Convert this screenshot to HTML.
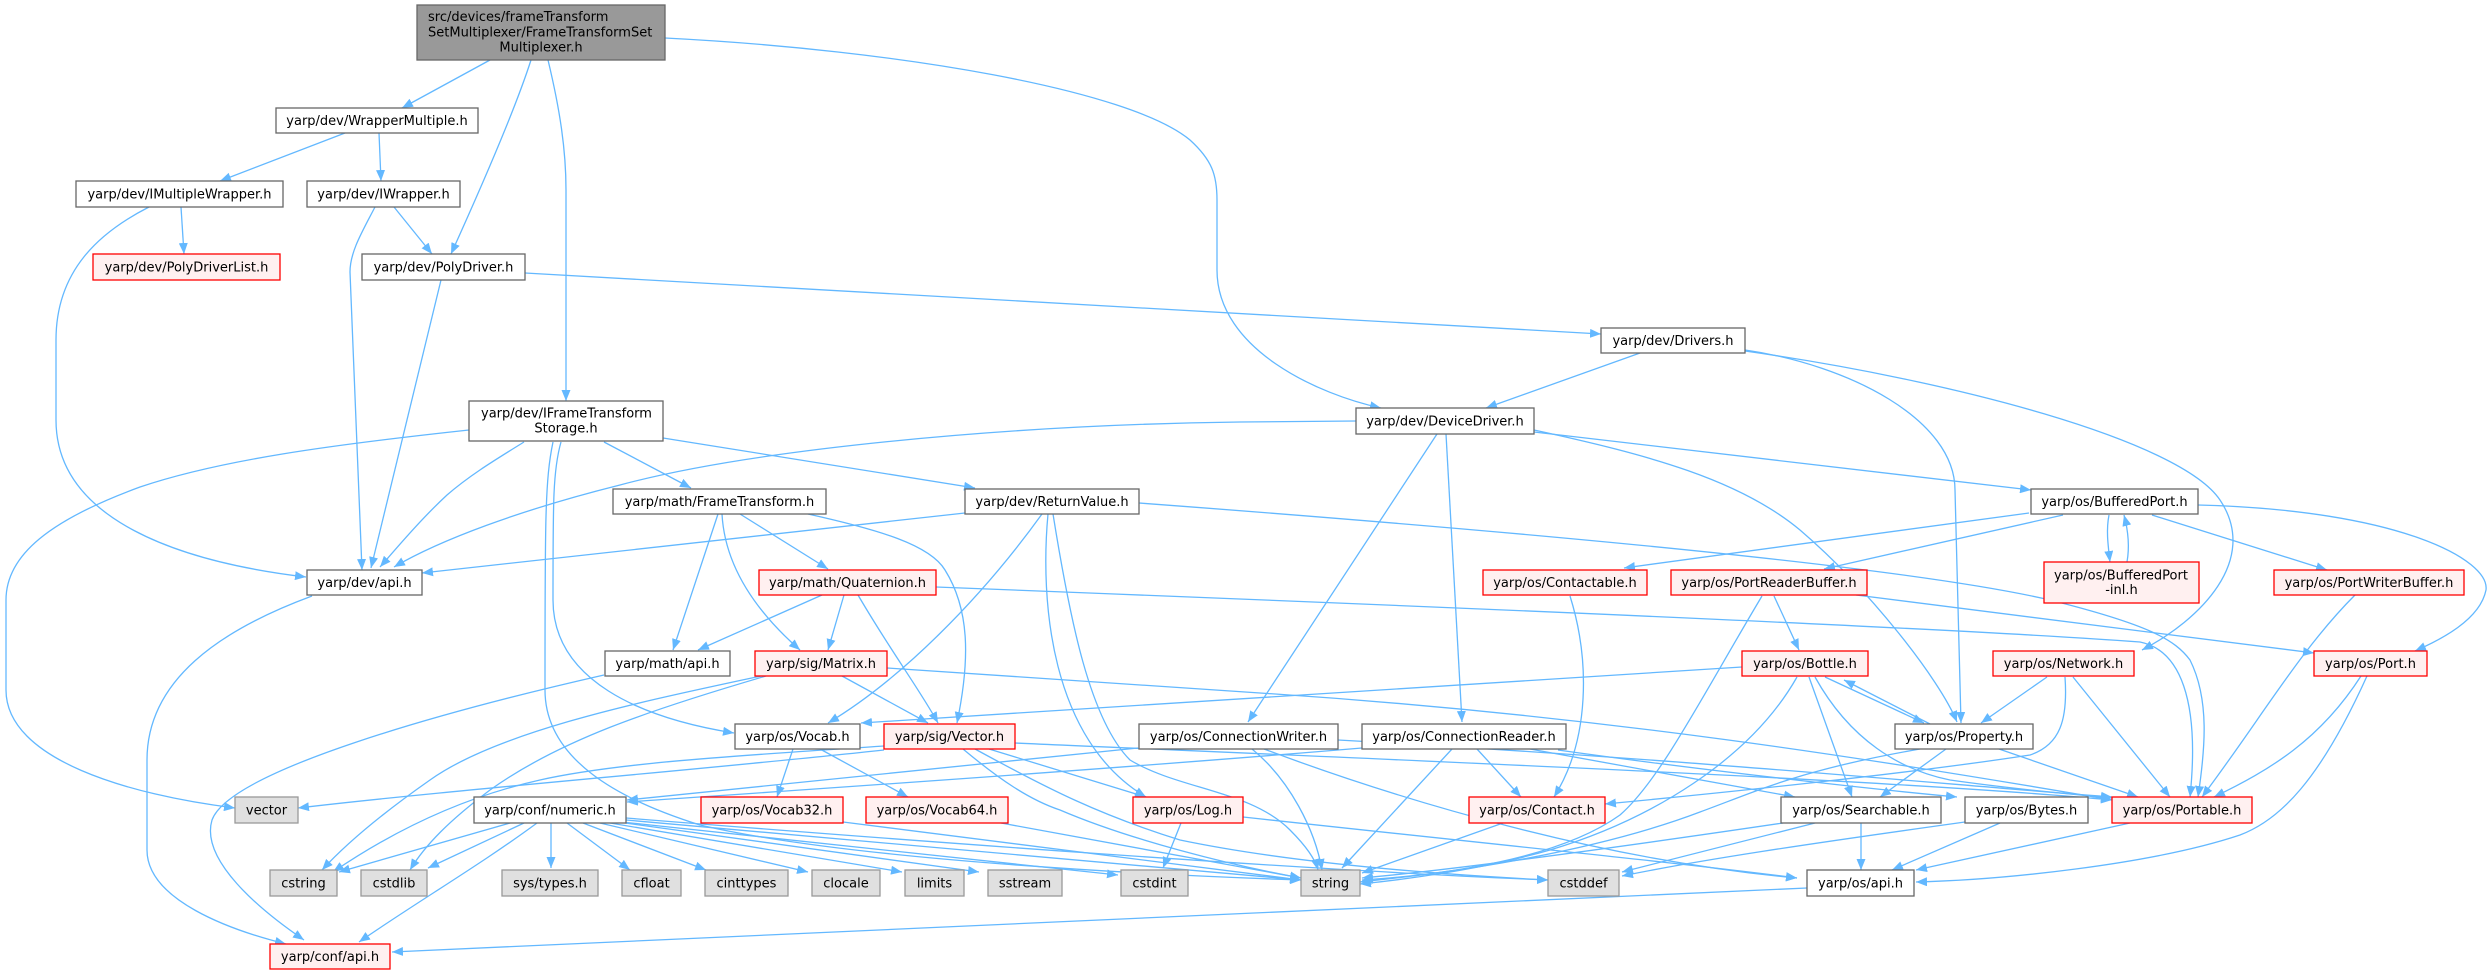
<!DOCTYPE html>
<html><head><meta charset="utf-8">
<style>
html,body{margin:0;padding:0;background:#fff;}
svg{display:block;}
text{font-family:"DejaVu Sans","Liberation Sans",sans-serif;font-size:13px;fill:#000;}
.e{fill:none;stroke:#63b8ff;stroke-width:1.3;marker-end:url(#a);}
.n{fill:#fff;stroke:#666;stroke-width:1.3;}
.r{fill:#fff0f0;stroke:#ff0000;stroke-width:1.3;}
.g{fill:#e0e0e0;stroke:#999;stroke-width:1.3;}
.m{fill:#999;stroke:#666;stroke-width:1.3;}
</style></head>
<body>
<svg width="2491" height="975" viewBox="0 0 2491 975" xmlns="http://www.w3.org/2000/svg">
<defs>
<marker id="a" viewBox="0 0 11 9" refX="11" refY="4.5" markerWidth="11" markerHeight="9" markerUnits="userSpaceOnUse" orient="auto">
<path d="M0,0 L11,4.5 L0,9 z" fill="#63b8ff"/>
</marker>
</defs>
<g>
<path class="e" d="M490,60 L402,108"/>
<path class="e" d="M531,60 C515,110 480,190 451,254"/>
<path class="e" d="M548,60 C560,110 566,150 566,190 L566,401"/>
<path class="e" d="M665,38 C900,50 1130,90 1190,140 C1212,160 1217,175 1217,200 L1217,270 C1217,350 1320,395 1381,408"/>
<path class="e" d="M345,133 L220,181"/>
<path class="e" d="M379,133 L381,181"/>
<path class="e" d="M181,207 L184,254"/>
<path class="e" d="M149,207 C100,232 56,270 56,340 L56,420 C56,520 180,562 306,577"/>
<path class="e" d="M394,207 L432,254"/>
<path class="e" d="M375,207 C362,232 350,252 350,272 L362,570"/>
<path class="e" d="M525,273 L1601,334"/>
<path class="e" d="M441,280 L371,568"/>
<path class="e" d="M469,430 C330,445 220,460 140,487 C50,520 6,555 6,600 L6,690 C6,760 130,795 235,808"/>
<path class="e" d="M524,442 C495,460 470,475 447,495 C420,520 395,550 380,567"/>
<path class="e" d="M604,442 L691,488"/>
<path class="e" d="M663,438 L975,488"/>
<path class="e" d="M561,442 C553,470 553,500 553,600 C553,680 640,718 734,733"/>
<path class="e" d="M553,442 C545,480 545,520 545,690 C545,760 620,800 700,825 C850,860 1150,875 1301,880"/>
<path class="e" d="M718,514 L673,650"/>
<path class="e" d="M722,514 C725,570 760,615 800,650"/>
<path class="e" d="M740,514 L828,569"/>
<path class="e" d="M808,514 C880,530 930,545 945,570 C970,610 970,660 957,723"/>
<path class="e" d="M822,595 L698,650"/>
<path class="e" d="M844,595 L828,650"/>
<path class="e" d="M858,595 C890,650 920,690 938,723"/>
<path class="e" d="M936,587 C1400,605 1950,628 2140,642 C2180,650 2200,700 2190,797"/>
<path class="e" d="M1139,503 C1500,530 1900,565 2050,600 C2150,625 2175,640 2190,660 C2210,700 2205,750 2198,797"/>
<path class="e" d="M965,513 L422,573"/>
<path class="e" d="M1042,514 C980,600 900,680 828,723"/>
<path class="e" d="M1048,514 C1040,600 1050,740 1146,797"/>
<path class="e" d="M1053,514 C1070,620 1090,720 1130,760 C1180,790 1250,790 1290,830 C1305,845 1315,858 1318,870"/>
<path class="e" d="M842,676 L928,723"/>
<path class="e" d="M761,676 C650,700 500,730 430,780 C380,815 345,845 322,870"/>
<path class="e" d="M766,676 C650,710 560,740 490,790 C450,820 425,845 410,870"/>
<path class="e" d="M884,750 C700,770 450,790 298,808"/>
<path class="e" d="M884,746 C750,755 620,762 540,780 C450,800 380,840 333,872"/>
<path class="e" d="M989,749 L1146,797"/>
<path class="e" d="M963,749 C1000,780 1030,800 1060,810 C1130,840 1230,865 1301,878"/>
<path class="e" d="M975,749 C1050,790 1100,815 1180,840 C1300,865 1450,875 1548,880"/>
<path class="e" d="M1015,743 C1400,760 1900,780 2112,800"/>
<path class="e" d="M793,749 L777,797"/>
<path class="e" d="M820,749 L908,797"/>
<path class="e" d="M1742,667 L861,723"/>
<path class="e" d="M887,668 L1260,693 C1600,715 1880,760 2112,800"/>
<path class="e" d="M1181,823 L1163,868"/>
<path class="e" d="M1243,817 C1500,845 1700,865 1797,878"/>
<path class="e" d="M843,822 L1301,880"/>
<path class="e" d="M1001,823 L1301,878"/>
<path class="e" d="M510,823 L339,872"/>
<path class="e" d="M524,823 L428,868"/>
<path class="e" d="M551,823 L551,868"/>
<path class="e" d="M567,823 L630,870"/>
<path class="e" d="M583,823 L706,870"/>
<path class="e" d="M600,823 L808,872"/>
<path class="e" d="M610,823 L902,872"/>
<path class="e" d="M618,822 L979,872"/>
<path class="e" d="M622,822 L1118,875"/>
<path class="e" d="M626,820 L1301,880"/>
<path class="e" d="M626,818 C900,840 1300,870 1548,880"/>
<path class="e" d="M537,823 C480,865 420,900 359,942"/>
<path class="e" d="M312,596 C220,630 147,680 147,760 L147,850 C147,900 230,930 286,944"/>
<path class="e" d="M604,675 C450,710 230,770 212,820 C200,860 260,910 304,940"/>
<path class="e" d="M1807,888 L392,952"/>
<path class="e" d="M1252,749 C1290,780 1315,830 1322,870"/>
<path class="e" d="M1264,749 C1400,800 1600,860 1797,878"/>
<path class="e" d="M1138,748 L627,800"/>
<path class="e" d="M1362,748 C1100,770 800,790 627,802"/>
<path class="e" d="M1452,749 L1342,868"/>
<path class="e" d="M1477,749 L1521,797"/>
<path class="e" d="M1530,749 L1795,797"/>
<path class="e" d="M1558,750 C1700,770 1880,790 1957,797"/>
<path class="e" d="M1338,740 C1700,760 1950,785 2112,797"/>
<path class="e" d="M1570,596 C1590,660 1590,740 1554,797"/>
<path class="e" d="M1774,596 L1799,650"/>
<path class="e" d="M1762,596 C1700,700 1660,780 1620,815 C1550,865 1420,875 1360,882"/>
<path class="e" d="M1856,595 L2314,653"/>
<path class="e" d="M1797,677 C1750,760 1650,820 1550,850 C1480,870 1400,880 1360,884"/>
<path class="e" d="M1809,677 L1852,797"/>
<path class="e" d="M1815,677 C1850,740 1900,770 1950,780 C2020,790 2080,795 2112,798"/>
<path class="e" d="M1825,677 L1924,723"/>
<path class="e" d="M1930,724 L1844,680"/>
<path class="e" d="M1503,823 L1362,873"/>
<path class="e" d="M1783,823 C1600,850 1450,870 1362,878"/>
<path class="e" d="M1815,823 L1622,872"/>
<path class="e" d="M1861,823 L1861,870"/>
<path class="e" d="M1965,822 C1800,845 1700,860 1622,876"/>
<path class="e" d="M2000,823 L1892,870"/>
<path class="e" d="M2130,823 L1916,870"/>
<path class="e" d="M2367,676 C2320,780 2280,820 2240,835 C2150,865 2000,880 1916,882"/>
<path class="e" d="M2361,676 C2320,740 2270,770 2214,797"/>
<path class="e" d="M2355,595 C2300,650 2260,720 2202,797"/>
<path class="e" d="M2047,677 L1981,723"/>
<path class="e" d="M2073,677 L2170,797"/>
<path class="e" d="M2065,677 C2068,720 2060,745 2030,755 C1900,775 1700,795 1605,804"/>
<path class="e" d="M1946,749 L1880,797"/>
<path class="e" d="M1999,749 L2138,797"/>
<path class="e" d="M1920,749 C1800,770 1760,790 1700,812 C1600,850 1450,875 1362,880"/>
<path class="e" d="M1356,421 L1240,422 C1000,425 750,450 620,485 C520,510 440,540 394,567"/>
<path class="e" d="M1437,434 L1248,722"/>
<path class="e" d="M1446,434 L1462,722"/>
<path class="e" d="M1534,430 C1650,455 1740,480 1800,530 C1870,590 1940,680 1957,722"/>
<path class="e" d="M1534,432 L2031,490"/>
<path class="e" d="M1640,353 L1486,408"/>
<path class="e" d="M1745,350 C1850,365 1955,420 1955,490 L1961,723"/>
<path class="e" d="M1745,351 C1950,380 2180,440 2220,500 C2260,560 2200,620 2142,650"/>
<path class="e" d="M2029,513 L1624,568"/>
<path class="e" d="M2063,515 L1824,569"/>
<path class="e" d="M2109,515 C2106,530 2108,545 2110,562"/>
<path class="e" d="M2127,562 C2130,545 2128,530 2124,515"/>
<path class="e" d="M2152,515 L2327,570"/>
<path class="e" d="M2198,505 C2400,510 2490,560 2486,590 C2480,620 2440,640 2415,651"/>
</g>
<g>
<rect class="m" x="417" y="5" width="248" height="55"/>
<text x="428" y="21">src/devices/frameTransform</text>
<text x="428" y="36.5">SetMultiplexer/FrameTransformSet</text>
<text x="541" y="51.5" text-anchor="middle">Multiplexer.h</text>

<rect class="n" x="276" y="108" width="202" height="25"/><text x="377" y="125" text-anchor="middle">yarp/dev/WrapperMultiple.h</text>
<rect class="n" x="76" y="181" width="207" height="26"/><text x="179.5" y="198.5" text-anchor="middle">yarp/dev/IMultipleWrapper.h</text>
<rect class="n" x="307" y="181" width="153" height="26"/><text x="383.5" y="198.5" text-anchor="middle">yarp/dev/IWrapper.h</text>
<rect class="r" x="93" y="254" width="187" height="26"/><text x="186.5" y="271.5" text-anchor="middle">yarp/dev/PolyDriverList.h</text>
<rect class="n" x="362" y="254" width="163" height="26"/><text x="443.5" y="271.5" text-anchor="middle">yarp/dev/PolyDriver.h</text>
<rect class="n" x="1601" y="328" width="144" height="25"/><text x="1673" y="345" text-anchor="middle">yarp/dev/Drivers.h</text>
<rect class="n" x="469" y="401" width="194" height="40"/>
<text x="481" y="417.5">yarp/dev/IFrameTransform</text>
<text x="566" y="432.5" text-anchor="middle">Storage.h</text>
<rect class="n" x="1356" y="408" width="178" height="26"/><text x="1445" y="425.5" text-anchor="middle">yarp/dev/DeviceDriver.h</text>
<rect class="n" x="613" y="489" width="213" height="25"/><text x="719.5" y="506" text-anchor="middle">yarp/math/FrameTransform.h</text>
<rect class="n" x="965" y="489" width="174" height="25"/><text x="1052" y="506" text-anchor="middle">yarp/dev/ReturnValue.h</text>
<rect class="n" x="2031" y="489" width="167" height="25"/><text x="2114.5" y="506" text-anchor="middle">yarp/os/BufferedPort.h</text>
<rect class="n" x="307" y="570" width="115" height="25"/><text x="364.5" y="587" text-anchor="middle">yarp/dev/api.h</text>
<rect class="r" x="759" y="570" width="177" height="25"/><text x="847.5" y="587" text-anchor="middle">yarp/math/Quaternion.h</text>
<rect class="r" x="1483" y="570" width="164" height="25"/><text x="1565" y="587" text-anchor="middle">yarp/os/Contactable.h</text>
<rect class="r" x="1671" y="570" width="196" height="25"/><text x="1769" y="587" text-anchor="middle">yarp/os/PortReaderBuffer.h</text>
<rect class="r" x="2044" y="562" width="155" height="41"/>
<text x="2054" y="579.5">yarp/os/BufferedPort</text>
<text x="2121.5" y="594" text-anchor="middle">-inl.h</text>
<rect class="r" x="2274" y="570" width="190" height="25"/><text x="2369" y="587" text-anchor="middle">yarp/os/PortWriterBuffer.h</text>
<rect class="n" x="605" y="651" width="125" height="25"/><text x="667.5" y="668" text-anchor="middle">yarp/math/api.h</text>
<rect class="r" x="755" y="651" width="132" height="25"/><text x="821" y="668" text-anchor="middle">yarp/sig/Matrix.h</text>
<rect class="r" x="1742" y="651" width="126" height="25"/><text x="1805" y="668" text-anchor="middle">yarp/os/Bottle.h</text>
<rect class="r" x="1993" y="651" width="141" height="25"/><text x="2063.5" y="668" text-anchor="middle">yarp/os/Network.h</text>
<rect class="r" x="2314" y="651" width="113" height="25"/><text x="2370.5" y="668" text-anchor="middle">yarp/os/Port.h</text>
<rect class="n" x="735" y="724" width="125" height="25"/><text x="797.5" y="741" text-anchor="middle">yarp/os/Vocab.h</text>
<rect class="r" x="884" y="724" width="131" height="25"/><text x="949.5" y="741" text-anchor="middle">yarp/sig/Vector.h</text>
<rect class="n" x="1139" y="724" width="199" height="25"/><text x="1238.5" y="741" text-anchor="middle">yarp/os/ConnectionWriter.h</text>
<rect class="n" x="1362" y="724" width="204" height="25"/><text x="1464" y="741" text-anchor="middle">yarp/os/ConnectionReader.h</text>
<rect class="n" x="1895" y="724" width="138" height="25"/><text x="1964" y="741" text-anchor="middle">yarp/os/Property.h</text>
<rect class="g" x="235" y="797" width="63" height="26"/><text x="266.5" y="814.5" text-anchor="middle">vector</text>
<rect class="n" x="474" y="797" width="152" height="26"/><text x="550" y="814.5" text-anchor="middle">yarp/conf/numeric.h</text>
<rect class="r" x="701" y="797" width="142" height="26"/><text x="772" y="814.5" text-anchor="middle">yarp/os/Vocab32.h</text>
<rect class="r" x="866" y="797" width="142" height="26"/><text x="937" y="814.5" text-anchor="middle">yarp/os/Vocab64.h</text>
<rect class="r" x="1133" y="797" width="110" height="26"/><text x="1188" y="814.5" text-anchor="middle">yarp/os/Log.h</text>
<rect class="r" x="1469" y="797" width="136" height="26"/><text x="1537" y="814.5" text-anchor="middle">yarp/os/Contact.h</text>
<rect class="n" x="1781" y="797" width="160" height="26"/><text x="1861" y="814.5" text-anchor="middle">yarp/os/Searchable.h</text>
<rect class="n" x="1965" y="797" width="123" height="26"/><text x="2026.5" y="814.5" text-anchor="middle">yarp/os/Bytes.h</text>
<rect class="r" x="2112" y="797" width="140" height="26"/><text x="2182" y="814.5" text-anchor="middle">yarp/os/Portable.h</text>
<rect class="g" x="270" y="870" width="67" height="26"/><text x="303.5" y="887.5" text-anchor="middle">cstring</text>
<rect class="g" x="361" y="870" width="66" height="26"/><text x="394" y="887.5" text-anchor="middle">cstdlib</text>
<rect class="g" x="502" y="870" width="96" height="26"/><text x="550" y="887.5" text-anchor="middle">sys/types.h</text>
<rect class="g" x="622" y="870" width="59" height="26"/><text x="651.5" y="887.5" text-anchor="middle">cfloat</text>
<rect class="g" x="705" y="870" width="83" height="26"/><text x="746.5" y="887.5" text-anchor="middle">cinttypes</text>
<rect class="g" x="812" y="870" width="68" height="26"/><text x="846" y="887.5" text-anchor="middle">clocale</text>
<rect class="g" x="905" y="870" width="59" height="26"/><text x="934.5" y="887.5" text-anchor="middle">limits</text>
<rect class="g" x="988" y="870" width="74" height="26"/><text x="1025" y="887.5" text-anchor="middle">sstream</text>
<rect class="g" x="1121" y="870" width="67" height="26"/><text x="1154.5" y="887.5" text-anchor="middle">cstdint</text>
<rect class="g" x="1301" y="870" width="59" height="26"/><text x="1330.5" y="887.5" text-anchor="middle">string</text>
<rect class="g" x="1548" y="870" width="71" height="26"/><text x="1583.5" y="887.5" text-anchor="middle">cstddef</text>
<rect class="n" x="1807" y="870" width="107" height="26"/><text x="1860.5" y="887.5" text-anchor="middle">yarp/os/api.h</text>
<rect class="r" x="270" y="944" width="120" height="25"/><text x="330" y="961" text-anchor="middle">yarp/conf/api.h</text>
</g>
</svg>
</body></html>
